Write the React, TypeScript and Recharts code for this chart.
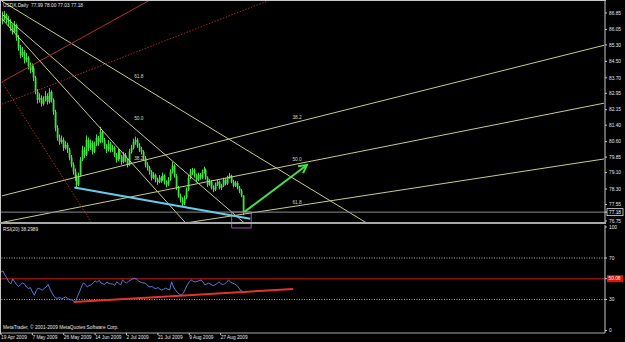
import React from "react";
import {
  ComposedChart,
  Bar,
  Line,
  XAxis,
  YAxis,
  ReferenceLine,
  ReferenceArea,
  ReferenceDot,
} from "recharts";

const symbolTitle = "USDX,Daily  77.99 78.00 77.03 77.18";
const rsiTitle = "RSI(20) 38.2989";
const copyright = "MetaTrader, © 2001-2009 MetaQuotes Software Corp.";

// daily bars 19 Apr 2009 .. 9 Sep 2009
const barOpen = [
  86.45, 86.61, 86.75, 86.51, 86.41, 86.12, 85.93, 86.27, 85.64, 85.15,
  84.81, 84.96, 84.57, 84.67, 84.28, 84.09, 84.18, 83.70, 83.02, 82.63,
  82.72, 82.44, 82.63, 82.82, 82.53, 83.02, 82.63, 82.05, 81.27, 80.79,
  80.59, 80.69, 80.30, 80.45, 80.21, 79.82, 79.48, 79.14, 78.85, 78.51,
  78.95, 79.72, 80.21, 79.96, 80.69, 80.30, 80.54, 80.11, 80.45, 80.79,
  80.59, 81.08, 80.69, 80.40, 80.21, 80.50, 80.21, 80.30, 79.96, 79.72,
  80.11, 79.87, 79.62, 79.96, 79.72, 79.48, 80.11, 80.30, 80.59, 80.69,
  80.40, 80.21, 80.11, 79.82, 79.48, 79.33, 79.14, 78.85, 78.99, 78.75,
  78.65, 78.85, 78.75, 78.95, 78.65, 78.51, 78.75, 79.14, 79.43, 78.95,
  78.36, 77.97, 77.78, 77.59, 77.88, 78.27, 78.85, 79.14, 79.24, 78.95,
  78.75, 78.99, 78.85, 79.14, 79.24, 78.85, 78.51, 78.65, 78.36, 78.27,
  78.51, 78.65, 78.36, 78.46, 78.75, 78.56, 78.85, 78.95, 78.65, 78.46,
  78.60, 78.36, 78.20, 77.99,
];
const barHigh = [
  86.92, 86.95, 86.82, 86.70, 86.55, 86.30, 86.45, 86.33, 85.78, 85.30,
  85.20, 85.05, 84.90, 84.75, 84.45, 84.40, 84.30, 83.80, 83.15, 82.95,
  82.85, 82.80, 83.05, 82.95, 83.20, 83.10, 82.70, 82.15, 81.40, 80.95,
  80.90, 80.80, 80.62, 80.55, 80.30, 79.95, 79.60, 79.30, 79.00, 79.10,
  79.85, 80.40, 80.35, 80.90, 80.80, 80.70, 80.65, 80.60, 80.95, 80.88,
  81.32, 81.15, 80.78, 80.50, 80.68, 80.58, 80.45, 80.38, 80.05, 80.25,
  80.20, 79.95, 80.10, 80.05, 79.80, 80.25, 80.45, 80.75, 80.85, 80.78,
  80.52, 80.35, 80.18, 79.90, 79.60, 79.42, 79.22, 79.12, 79.05, 78.85,
  78.98, 78.92, 79.10, 79.02, 78.72, 78.88, 79.25, 79.62, 79.50, 79.02,
  78.45, 78.08, 77.90, 77.98, 78.38, 78.98, 79.28, 79.33, 79.30, 79.05,
  79.10, 79.08, 79.25, 79.38, 79.30, 78.92, 78.78, 78.72, 78.48, 78.62,
  78.75, 78.72, 78.55, 78.85, 78.82, 78.95, 79.08, 79.00, 78.75, 78.70,
  78.68, 78.45, 78.30, 78.00,
];
const barLow = [
  86.30, 86.48, 86.35, 86.22, 85.98, 85.80, 85.88, 85.50, 85.02, 84.66,
  84.70, 84.40, 84.45, 84.10, 83.92, 83.98, 83.55, 82.90, 82.45, 82.50,
  82.30, 82.35, 82.55, 82.40, 82.45, 82.50, 81.90, 81.10, 80.65, 80.45,
  80.50, 80.15, 80.22, 80.05, 79.70, 79.35, 79.00, 78.70, 78.36, 78.45,
  78.90, 79.65, 79.80, 79.90, 80.15, 80.20, 79.98, 80.05, 80.38, 80.40,
  80.52, 80.55, 80.25, 80.05, 80.12, 80.08, 80.10, 79.85, 79.58, 79.65,
  79.75, 79.48, 79.55, 79.60, 79.35, 79.42, 80.02, 80.22, 80.45, 80.30,
  80.10, 79.98, 79.70, 79.35, 79.20, 79.00, 78.72, 78.78, 78.62, 78.50,
  78.58, 78.60, 78.68, 78.52, 78.38, 78.45, 78.70, 79.05, 78.85, 78.25,
  77.88, 77.65, 77.44, 77.52, 77.80, 78.20, 78.78, 78.98, 78.85, 78.62,
  78.68, 78.75, 78.78, 79.05, 78.75, 78.40, 78.45, 78.28, 78.15, 78.20,
  78.45, 78.28, 78.25, 78.40, 78.48, 78.50, 78.80, 78.58, 78.38, 78.40,
  78.28, 78.10, 77.90, 77.03,
];
const barClose = [
  86.61, 86.75, 86.51, 86.41, 86.12, 85.93, 86.27, 85.64, 85.15, 84.81,
  84.96, 84.57, 84.67, 84.28, 84.09, 84.18, 83.70, 83.02, 82.63, 82.72,
  82.44, 82.63, 82.82, 82.53, 83.02, 82.63, 82.05, 81.27, 80.79, 80.59,
  80.69, 80.30, 80.45, 80.21, 79.82, 79.48, 79.14, 78.85, 78.51, 78.95,
  79.72, 80.21, 79.96, 80.69, 80.30, 80.54, 80.11, 80.45, 80.79, 80.59,
  81.08, 80.69, 80.40, 80.21, 80.50, 80.21, 80.30, 79.96, 79.72, 80.11,
  79.87, 79.62, 79.96, 79.72, 79.48, 80.11, 80.30, 80.59, 80.69, 80.40,
  80.21, 80.11, 79.82, 79.48, 79.33, 79.14, 78.85, 78.99, 78.75, 78.65,
  78.85, 78.75, 78.95, 78.65, 78.51, 78.75, 79.14, 79.43, 78.95, 78.36,
  77.97, 77.78, 77.59, 77.88, 78.27, 78.85, 79.14, 79.24, 78.95, 78.75,
  78.99, 78.85, 79.14, 79.24, 78.85, 78.51, 78.65, 78.36, 78.27, 78.51,
  78.65, 78.36, 78.46, 78.75, 78.56, 78.85, 78.95, 78.65, 78.46, 78.60,
  78.36, 78.20, 77.99, 77.18,
];
const rsiValues = [
  56.5, 57.5, 53.6, 50.5, 46.9, 45.0, 49.8, 47.0, 44.0, 42.5,
  44.5, 45.9, 44.8, 42.0, 40.5, 41.5, 37.2, 34.0, 38.5, 41.0,
  40.0, 39.0, 40.5, 42.0, 44.5, 40.0, 36.2, 33.0, 31.4, 31.0,
  32.0, 30.4, 31.5, 32.4, 31.0, 30.0, 29.5, 28.5, 27.5, 33.0,
  37.2, 42.0, 45.9, 44.5, 42.0, 43.5, 44.0, 46.0, 47.8, 46.5,
  48.5, 45.9, 45.0, 44.5, 46.9, 45.5, 45.0, 44.9, 43.5, 46.9,
  45.5, 44.0, 48.8, 47.0, 46.0, 47.5, 48.5, 49.8, 50.5, 49.8,
  48.0, 46.9, 46.0, 45.9, 45.0, 43.0, 42.0, 42.5, 41.0, 40.5,
  41.5, 40.0, 39.0, 40.0, 41.0, 40.0, 39.0, 46.9, 42.0, 39.0,
  36.5, 35.0, 34.3, 36.2, 40.0, 44.0, 47.0, 48.8, 47.5, 46.9,
  47.5, 48.0, 48.8, 47.0, 44.0, 45.0, 45.9, 44.5, 43.5, 44.0,
  45.0, 46.9, 45.5, 44.5, 44.9, 46.5, 48.8, 47.0, 45.9, 45.0,
  44.0, 42.0, 39.0, 38.3,
];

const slotCount = 309; // bar slots that fit in the window
const dateTicks = [0, 16, 32, 48, 64, 80, 96, 112];
const dateLabels = [
  "19 Apr 2009", "7 May 2009", "26 May 2009", "14 Jun 2009",
  "2 Jul 2009", "21 Jul 2009", "9 Aug 2009", "27 Aug 2009",
];
const priceTicks = [
  86.85, 86.05, 85.3, 84.5, 83.7, 82.95, 82.15, 81.4, 80.6, 79.85,
  79.1, 78.3, 77.55, 76.75,
];
const lastPrice = 77.18;
const rsiTicks = [0, 30, 70, 100];
const rsiMark = 50.08;

// drawn objects: [barIndex, price] end points
const fanDown = [
  [[0, 87.42], [192, 76.34]],
  [[0, 86.79], [126, 76.49]],
  [[0, 86.56], [96, 76.44]],
];
const fanUp = [
  [[0, 77.97], [308, 85.28]],
  [[0, 76.68], [308, 82.47]],
  [[0, 75.29], [308, 79.76]],
];
const fanDownLabels = [["61.8", 70, 83.75], ["50.0", 70, 81.75], ["38.2", 70, 79.81]];
const fanUpLabels = [["38.2", 151, 81.8], ["50.0", 151, 79.76], ["61.8", 151, 77.67]];
const redSolid = [[0, 83.5], [82, 87.81]];
const redDotted = [
  [[0, 82.42], [142, 87.66]],
  [[0, 83.49], [50, 76.06]],
];
const supportLine = [[37, 78.37], [127, 76.86]];
const arrowLine = [[124, 77.19], [156, 79.47]];
const boxArea = { x1: 118, x2: 127, y1: 76.41, y2: 77.19 };
const rsiTrend = [[37, 27.5], [149, 40.1]];

const chartData = Array.from({ length: slotCount }, (_, i) => ({
  i,
  range: i < barClose.length ? [barLow[i], barHigh[i]] : undefined,
  open: barOpen[i],
  close: barClose[i],
  rsi: rsiValues[i],
}));

const font = "'Liberation Sans', Arial, sans-serif";
const small = 4.8;
const candleColor = "#46e046";
const fibColor = "#c9c98e";

function Candle(props: any) {
  const { x, y, width, height, payload } = props;
  if (!payload || !payload.range) return null;
  const [lo, hi] = payload.range;
  const top = Math.min(y, y + height);
  const h = Math.abs(height);
  const cx = Math.round(x + width / 2);
  const toY = (v: number) => (hi === lo ? top : top + ((hi - v) / (hi - lo)) * h);
  const bTop = toY(Math.max(payload.open, payload.close));
  const bBot = toY(Math.min(payload.open, payload.close));
  return (
    <g>
      <line x1={cx + 0.5} x2={cx + 0.5} y1={top} y2={top + h} stroke={candleColor} strokeWidth={1} />
      <rect x={cx - 0.3} y={bTop} width={1.8} height={Math.max(bBot - bTop, 0.8)} fill={candleColor} />
    </g>
  );
}

function Arrow(props: any) {
  const { x1, y1, x2, y2, stroke } = props;
  const a = Math.atan2(y2 - y1, x2 - x1);
  const len = 9;
  const s = 0.5;
  const p1 = `${x2 - len * Math.cos(a - s)},${y2 - len * Math.sin(a - s)}`;
  const p2 = `${x2 - len * Math.cos(a + s)},${y2 - len * Math.sin(a + s)}`;
  return (
    <g>
      <line x1={x1} y1={y1} x2={x2} y2={y2} stroke={stroke} strokeWidth={2} />
      <polyline points={`${p1} ${x2},${y2} ${p2}`} fill="none" stroke={stroke} strokeWidth={2} />
    </g>
  );
}

function PriceTick(props: any) {
  const { x, y, payload } = props;
  const v = payload.value;
  if (v === lastPrice) {
    return (
      <g>
        <rect x={x} y={y - 3.5} width={16} height={7} fill="#000" stroke="#e0e0e0" strokeWidth={0.8} />
        <text x={x + 2} y={y + 1.7} fontSize={small} fill="#fff" fontFamily={font}>
          {v.toFixed(2)}
        </text>
      </g>
    );
  }
  return (
    <text x={x + 2} y={y + 1.7} fontSize={small} fill="#e6e6e6" fontFamily={font}>
      {v.toFixed(2)}
    </text>
  );
}

function RsiTick(props: any) {
  const { x, y, payload } = props;
  const v = payload.value;
  if (v === rsiMark) {
    return (
      <g>
        <rect x={x} y={y - 3.5} width={16} height={7} fill="#e01010" />
        <text x={x + 1.5} y={y + 1.7} fontSize={small} fill="#fff" fontFamily={font}>
          {v.toFixed(2)}
        </text>
      </g>
    );
  }
  return (
    <text x={x + 2} y={y + 1.7} fontSize={small} fill="#e6e6e6" fontFamily={font}>
      {v}
    </text>
  );
}

function DateTick(props: any) {
  const { x, y, payload } = props;
  const k = dateTicks.indexOf(payload.value);
  return (
    <text x={x} y={y + 4} fontSize={small} fill="#e6e6e6" fontFamily={font}>
      {dateLabels[k]}
    </text>
  );
}

function seg(p: number[][]) {
  return [
    { x: p[0][0], y: p[0][1] },
    { x: p[1][0], y: p[1][1] },
  ];
}

const hline = (top: number, h: number, color: string): React.CSSProperties => ({
  position: "absolute",
  left: 0,
  top,
  width: 606,
  height: h,
  background: color,
});

export default function App() {
  const label = (text: string, top: number): React.ReactNode => (
    <div
      style={{
        position: "absolute",
        left: 3,
        top,
        fontSize: small,
        lineHeight: "6px",
        color: "#e6e6e6",
        fontFamily: font,
        whiteSpace: "pre",
      }}
    >
      {text}
    </div>
  );

  return (
    <div
      style={{
        position: "absolute",
        left: 0,
        top: 0,
        width: 625,
        height: 342,
        background: "#000",
        overflow: "hidden",
      }}
    >
      <div style={{ position: "absolute", left: 0, top: 0 }}>
        <ComposedChart
          width={625}
          height={232}
          data={chartData}
          margin={{ top: 1, right: 0, bottom: 10, left: 1 }}
        >
          <XAxis dataKey="i" type="category" hide />
          <YAxis
            orientation="right"
            width={20}
            domain={[76.7, 87.43]}
            allowDataOverflow
            ticks={[...priceTicks, lastPrice]}
            interval={0}
            tick={<PriceTick />}
            tickSize={2}
            tickMargin={0}
            axisLine={{ stroke: "#c8c8c8" }}
            tickLine={{ stroke: "#c8c8c8" }}
          />
          {fanUp.map((p, k) => (
            <ReferenceLine key={"u" + k} segment={seg(p)} stroke={fibColor} strokeWidth={1} ifOverflow="hidden" />
          ))}
          {fanDown.map((p, k) => (
            <ReferenceLine key={"d" + k} segment={seg(p)} stroke={fibColor} strokeWidth={1} ifOverflow="hidden" />
          ))}
          <ReferenceLine segment={seg(redSolid)} stroke="#b03030" strokeWidth={1} ifOverflow="hidden" />
          {redDotted.map((p, k) => (
            <ReferenceLine
              key={"r" + k}
              segment={seg(p)}
              stroke="#a82a2a"
              strokeWidth={1}
              strokeDasharray="1.5 1.5"
              ifOverflow="hidden"
            />
          ))}
          <ReferenceLine y={lastPrice} stroke="#8c8c8c" strokeWidth={1} />
          <Bar dataKey="range" shape={<Candle />} isAnimationActive={false} />
          <ReferenceLine segment={seg(supportLine)} stroke="#66ccee" strokeWidth={2} ifOverflow="hidden" />
          <ReferenceLine
            segment={seg(arrowLine)}
            stroke="#44e044"
            ifOverflow="visible"
            shape={(p: any) => <Arrow {...p} stroke="#44e044" />}
          />
          <ReferenceArea {...boxArea} fill="none" stroke="#a848b8" strokeWidth={1} ifOverflow="visible" />
          {[...fanDownLabels, ...fanUpLabels].map((l, k) => (
            <ReferenceDot
              key={"l" + k}
              x={l[1] as number}
              y={l[2] as number}
              r={0}
              stroke="none"
              fill="none"
              label={{ value: l[0] as string, fill: "#d8d8b0", fontSize: small, position: "center", fontFamily: font }}
            />
          ))}
        </ComposedChart>
      </div>

      <div style={{ position: "absolute", left: 0, top: 224 }}>
        <ComposedChart
          width={625}
          height={118}
          data={chartData}
          margin={{ top: 1, right: 0, bottom: 0, left: 1 }}
        >
          <XAxis
            dataKey="i"
            type="category"
            ticks={dateTicks}
            interval={0}
            height={9}
            tick={<DateTick />}
            tickSize={2}
            tickMargin={0}
            axisLine={{ stroke: "#a8a8a8" }}
            tickLine={{ stroke: "#c8c8c8" }}
          />
          <YAxis
            orientation="right"
            width={20}
            domain={[-2.4, 101.9]}
            allowDataOverflow
            ticks={[...rsiTicks, rsiMark]}
            interval={0}
            tick={<RsiTick />}
            tickSize={2}
            tickMargin={0}
            axisLine={{ stroke: "#c8c8c8" }}
            tickLine={{ stroke: "#c8c8c8" }}
          />
          {[30, 70].map((v) => (
            <ReferenceLine key={v} y={v} stroke="#b0b0b0" strokeDasharray="1 1.5" strokeWidth={1} />
          ))}
          <ReferenceLine y={rsiMark} stroke="#8a1414" strokeWidth={1.5} />
          <Line
            dataKey="rsi"
            type="linear"
            stroke="#5a7ad2"
            strokeWidth={1}
            dot={false}
            isAnimationActive={false}
          />
          <ReferenceLine segment={seg(rsiTrend)} stroke="#e83030" strokeWidth={2} ifOverflow="hidden" />
        </ComposedChart>
      </div>

      <div style={{ position: "absolute", left: 0, top: 0, width: 1, height: 334, background: "#c8c8c8" }} />
      <div style={hline(0, 1, "#c8c8c8")} />
      <div style={hline(222, 2, "#a8a8a8")} />
      {label(symbolTitle, 3)}
      {label(rsiTitle, 227)}
      {label(copyright, 325)}
    </div>
  );
}
